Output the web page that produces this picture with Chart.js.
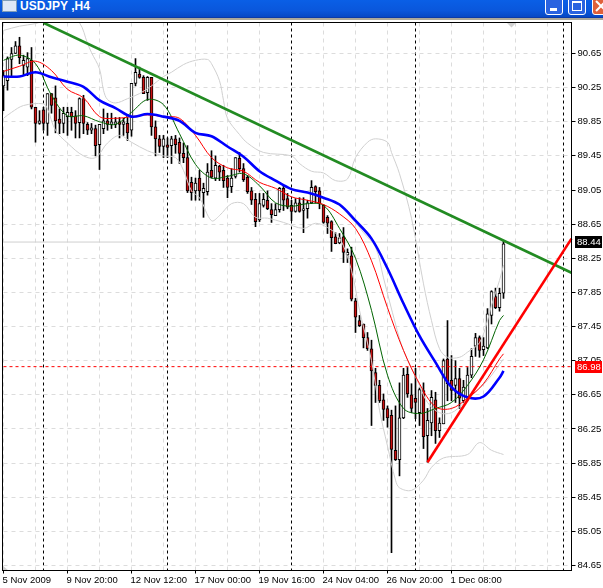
<!DOCTYPE html>
<html>
<head>
<meta charset="utf-8">
<title>USDJPY,H4</title>
<script src="https://cdn.jsdelivr.net/npm/chart.js@4"></script>
<style>
    html, body { margin: 0; padding: 0; background: #fff; }
    #janela { position: relative; width: 603px; height: 588px; overflow: hidden; background: #fff; }
    #grafico { position: absolute; left: 0; top: 0; }
    #barra { position: absolute; left: 0; top: 0; width: 603px; height: 17px;
             background: linear-gradient(#0a5fe6, #0a57dc 60%, #0648c4); border-bottom: 1px solid #0a3aa8; }
    #faixa { position: absolute; left: 0; top: 18px; width: 603px; height: 2px; background: #aca899; }
    #icone { position: absolute; left: 2px; top: 0; width: 13px; height: 10px; background: #dfe8f6; border: 1px solid #7f9db9; }
    #titulo { position: absolute; left: 20px; top: -1px; color: #fff; font: bold 12px "Liberation Sans", sans-serif; }
    .botao { position: absolute; top: -4px; width: 16px; height: 17px; border: 1px solid #fff; border-radius: 3px;
             background: #2a63e0; overflow: hidden; }
    #fechar { background: #e0603a; }
    #menos { position: absolute; left: 4px; top: 11px; width: 7px; height: 3px; background: #fff; }
    #caixa { position: absolute; left: 3px; top: 4px; width: 8px; height: 7px; border: 1px solid #fff; border-top-width: 2px; }
    .xis { position: absolute; left: 1px; top: 8px; width: 14px; height: 2px; background: #fff; }
</style>
</head>
<body>
<div id="janela">
    <canvas id="grafico" width="603" height="588"></canvas>
    <div id="barra"></div>
    <div id="faixa"></div>
    <div id="icone"></div>
    <div id="titulo">USDJPY ,H4</div>
    <div class="botao" style="left:545px"><div id="menos"></div></div>
    <div class="botao" style="left:568px"><div id="caixa"></div></div>
    <div class="botao" id="fechar" style="left:592px">
        <div class="xis" style="transform:rotate(45deg)"></div>
        <div class="xis" style="transform:rotate(-45deg)"></div>
    </div>
</div>
<script>
const totalBarras = 143;

const opens = [90.27,90.33,90.58,90.65,90.74,90.51,90.49,90.57,90.02,89.83,89.99,89.83,90.18,90.13,89.88,89.83,89.91,89.96,89.92,89.84,
    90.12,89.82,89.75,89.77,89.58,89.77,89.86,89.82,89.82,89.85,89.82,89.83,89.75,90.30,90.41,90.37,90.19,90.37,89.79,89.65,
    89.56,89.58,89.57,89.65,89.61,89.48,89.43,89.14,89.04,89.19,89.02,89.03,89.28,89.19,89.33,89.28,89.19,89.09,89.21,89.42,
    89.30,89.20,89.04,88.94,88.70,88.87,88.93,88.82,88.75,88.82,89.07,88.95,88.87,88.80,88.90,88.81,88.83,88.90,89.09,89.04,
    88.87,88.73,88.68,88.50,88.43,88.50,88.29,88.28,87.75,87.52,87.48,87.32,87.19,86.91,86.76,86.59,86.49,86.41,86.00,85.89,
    86.38,86.89,86.65,86.61,86.44,86.70,86.17,86.32,86.59,86.23,86.31,87.07,86.82,86.76,86.84,86.58,86.61,86.88,87.22,87.32,
    87.18,87.20,87.58,87.80,87.67,87.84];
const highs = [90.45,90.61,90.72,90.79,90.84,90.63,90.66,90.72,90.02,89.98,90.02,90.18,90.18,90.27,90.00,90.02,90.02,90.02,89.98,90.13,
    90.16,89.84,89.83,89.81,89.82,90.00,89.95,89.95,89.90,89.90,89.89,89.90,90.30,90.59,90.49,90.39,90.38,90.37,89.86,89.69,
    89.69,89.66,89.68,89.69,89.66,89.60,89.57,89.20,89.19,89.28,89.13,89.36,89.51,89.45,89.34,89.34,89.22,89.30,89.43,89.49,
    89.36,89.22,89.08,89.01,89.01,89.01,89.04,88.89,88.89,89.08,89.10,89.01,88.93,88.95,88.96,88.96,88.93,89.16,89.10,89.08,
    88.88,88.75,88.69,88.55,88.54,88.61,88.36,88.38,87.78,87.58,87.48,87.38,87.29,86.96,86.82,86.66,86.52,86.47,86.52,86.79,
    86.96,86.97,86.78,86.96,86.73,86.79,86.49,86.70,86.68,86.38,87.07,87.52,87.11,87.05,86.96,86.82,86.97,87.19,87.37,87.34,
    87.32,87.66,87.87,87.90,87.90,88.45];
const lows = [89.98,90.22,90.39,90.65,90.53,90.39,90.39,90.00,89.61,89.82,89.75,89.69,89.95,89.72,89.71,89.72,89.69,89.75,89.66,89.66,
    89.71,89.70,89.71,89.45,89.29,89.71,89.75,89.77,89.78,89.66,89.69,89.63,89.68,90.27,90.36,90.18,90.10,89.69,89.45,89.49,
    89.43,89.43,89.36,89.48,89.36,89.37,89.02,88.93,88.93,88.93,88.73,88.99,89.19,89.16,89.16,89.08,88.96,89.02,89.19,89.26,
    89.15,89.01,88.88,88.62,88.68,88.85,88.82,88.67,88.75,88.79,88.81,88.83,88.69,88.79,88.79,88.55,88.72,88.89,88.90,88.83,
    88.66,88.54,88.33,88.42,88.42,88.20,88.20,87.75,87.38,87.45,87.20,87.17,86.29,86.56,86.56,86.35,86.27,84.80,85.88,85.70,
    86.37,86.62,86.44,86.37,86.29,86.02,85.86,86.17,86.08,86.15,86.31,86.58,86.58,86.56,86.49,86.56,86.58,86.85,87.10,87.09,
    87.11,87.19,87.48,87.66,87.63,87.78];
const closes = [90.39,90.59,90.65,90.74,90.60,90.57,90.59,90.02,89.83,89.86,89.83,90.18,90.04,89.86,89.83,89.95,89.96,89.91,89.83,90.12,
    89.83,89.75,89.78,89.57,89.82,89.86,89.82,89.85,89.85,89.82,89.85,89.72,90.30,90.43,90.37,90.18,90.37,89.79,89.65,89.56,
    89.65,89.55,89.65,89.58,89.48,89.43,89.04,89.02,89.13,89.04,89.07,89.26,89.20,89.34,89.26,89.16,89.08,89.19,89.43,89.30,
    89.17,89.03,88.93,88.68,88.89,88.94,88.83,88.76,88.82,89.07,88.93,88.85,88.80,88.90,88.80,88.83,88.90,89.08,89.03,88.89,
    88.67,88.66,88.49,88.42,88.49,88.32,88.32,87.77,87.56,87.46,87.32,87.19,86.93,86.76,86.58,86.48,86.38,86.01,85.89,86.38,
    86.88,86.66,86.49,86.56,86.71,86.16,86.35,86.62,86.23,86.32,87.05,86.78,86.70,86.84,86.61,86.74,86.88,87.10,87.32,87.17,
    87.22,87.60,87.86,87.67,87.84,88.42];

const maBarras = [0,4,8,12,16,20,24,28,32,36,40,44,48,52,56,60,64,68,72,76,80,84,88,92,96,100,104,108,112,116,120,124,125];
const maAzul = [90.38,90.38,90.43,90.37,90.32,90.26,90.10,90.01,89.91,89.94,89.91,89.86,89.72,89.68,89.56,89.44,89.27,89.16,89.06,89.02,
    88.96,88.88,88.69,88.48,88.13,87.72,87.34,87.03,86.74,86.62,86.63,86.85,86.93];
const maVermelha = [90.44,90.50,90.56,90.45,90.23,90.13,89.91,89.89,89.91,89.93,89.91,89.89,89.69,89.43,89.31,89.27,89.14,89.07,88.97,88.93,
    88.88,88.77,88.60,88.22,87.67,87.17,86.78,86.51,86.49,86.61,86.78,87.07,87.13];
const maVerde = [90.57,90.63,90.53,90.16,89.92,89.92,89.85,89.82,89.96,90.11,90.05,89.71,89.35,89.19,89.21,89.24,89.10,88.90,88.86,88.89,
    88.87,88.60,88.25,87.64,86.88,86.49,86.43,86.49,86.56,86.76,87.06,87.52,87.58];

const bbSupBarras = [0,4,8,12,16,19,21,22,24,25,26,28,31,34,37,40,42,45,48,51,52,54,55,56,59,61,65,72,74,77,80,83,86,88,91,93,96,97,99,102,105,107,109,111,114,116,119,121,122,124,125];
const bbSup = [90.92,90.97,91.00,91.06,91.10,91.01,90.77,90.66,90.47,90.22,90.11,90.07,90.12,90.18,90.27,90.38,90.43,90.52,90.57,90.58,90.53,90.33,90.10,89.89,89.70,89.60,89.49,89.45,89.36,89.27,89.25,89.16,89.18,89.43,89.61,89.65,89.61,89.49,89.24,88.72,87.95,87.52,87.19,87.09,87.09,87.15,87.26,87.52,87.70,87.99,88.17];
const bbInfBarras = [0,2,5,10,11,13,16,20,23,26,29,32,36,40,43,45,47,49,52,54,57,60,63,66,70,75,78,81,84,87,89,92,94,96,98,99,102,105,107,110,116,119,122,125];
const bbInf = [89.89,89.96,90.04,90.06,90.00,89.75,89.60,89.45,89.43,89.60,89.69,89.61,89.51,89.45,89.43,89.28,89.04,88.96,88.69,88.75,88.89,88.89,88.73,88.72,88.67,88.60,88.66,88.61,88.49,88.11,87.64,87.05,86.47,86.05,85.65,85.56,85.53,85.65,85.80,85.91,85.95,86.09,86.00,85.95];
const bbMeioBarras = [84,88,90,93,95,98,100,104,106,109,112,115,118,121,125];
const bbMeio = [88.87,88.67,88.55,88.38,88.02,87.48,87.17,86.76,86.56,86.44,86.44,86.55,86.68,86.82,87.07];

const tendenciaVerdeBarras = [10,142];
const tendenciaVerde = [91.01,88.08];
const tendenciaVermelhaBarras = [106,142];
const tendenciaVermelha = [85.86,88.48];

const precoAtual = 88.44;
const precoLinha = 86.98;

const yTicks = [90.65,90.25,89.85,89.45,89.05,88.65,88.25,87.85,87.45,87.05,86.65,86.25,85.85,85.45,85.05,84.65];
const xTickLabels = ["5 Nov 2009","9 Nov 20:00","12 Nov 12:00","17 Nov 00:00","19 Nov 16:00","24 Nov 04:00","26 Nov 20:00","1 Dec 08:00"];
const separadores = [10,41,72,103,140];

const barras = [...Array(totalBarras).keys()];

// coloca os valores nas barras certas, o resto fica vazio
function esparso(indices, valores) {
    const saida = Array(totalBarras).fill(null);
    indices.forEach((b, k) => { saida[b] = valores[k]; });
    return saida;
}

function linha(indices, valores, cor, largura, ordem, extra) {
    return Object.assign({
        type: "line",
        data: esparso(indices, valores),
        borderColor: cor,
        borderWidth: largura,
        pointRadius: 0,
        spanGaps: true,
        tension: 0,
        order: ordem
    }, extra || {});
}

const fonte = { family: "'Liberation Sans', sans-serif", size: 9.5 };
const curva = { tension: 0.35 };

const moldura = {
    id: "moldura",
    afterDraw(c) {
        const ctx = c.ctx;
        const a = c.chartArea;
        const y = c.scales.y;
        ctx.save();
        // triangulos cinza da janela
        ctx.fillStyle = "#d0d0d0";
        ctx.beginPath();
        ctx.moveTo(a.right - 65, a.top);
        ctx.lineTo(a.right - 55, a.top);
        ctx.lineTo(a.right - 60, a.top + 5);
        ctx.fill();
        ctx.beginPath();
        ctx.moveTo(a.left - 1, a.bottom - 5);
        ctx.lineTo(a.left + 5, a.bottom);
        ctx.lineTo(a.left - 1, a.bottom);
        ctx.fill();
        ctx.strokeStyle = "#000";
        ctx.lineWidth = 1;
        ctx.strokeRect(2.5, a.top, a.right - 2.5, a.bottom - a.top);
        // etiquetas de preco na direita
        ctx.font = fonte.size + "px " + fonte.family;
        ctx.textAlign = "left";
        ctx.textBaseline = "middle";
        [[precoAtual, "#000"], [precoLinha, "#ff0000"]].forEach(([p, cor]) => {
            const py = Math.round(y.getPixelForValue(p));
            ctx.fillStyle = cor;
            ctx.fillRect(575, py - 6, 27, 12);
            ctx.fillStyle = "#fff";
            ctx.fillText(p.toFixed(2), 577, py);
        });
        ctx.restore();
    }
};

new Chart(document.getElementById("grafico"), {
    data: {
        labels: barras,
        datasets: [
            linha(tendenciaVermelhaBarras, tendenciaVermelha, "#ff0000", 2.6, 1),
            linha(tendenciaVerdeBarras, tendenciaVerde, "#228b22", 2.6, 2),
            linha(maBarras, maAzul, "#0000ff", 2.6, 3, curva),
            linha(maBarras, maVermelha, "#ff0000", 1, 4, curva),
            linha(maBarras, maVerde, "#006400", 1, 5, curva),
            linha(bbSupBarras, bbSup, "#d0d0d0", 1, 6, curva),
            linha(bbInfBarras, bbInf, "#d0d0d0", 1, 6, curva),
            linha(bbMeioBarras, bbMeio, "#d0d0d0", 1, 6, curva),
            linha([0,142], [precoLinha,precoLinha], "#ff0000", 1, 7, { borderDash: [3,3] }),
            linha([0,142], [precoAtual,precoAtual], "#cfcfcf", 1, 12),
            {
                type: "bar",
                data: opens.map((o, i) => [o, closes[i]]),
                backgroundColor: opens.map((o, i) => closes[i] < o ? "#cc1111" : "#ffffff"),
                borderColor: "#000",
                borderWidth: 1,
                borderSkipped: false,
                barThickness: 3,
                grouped: false,
                clip: false,
                order: 8
            },
            {
                type: "bar",
                data: lows.map((l, i) => [l, highs[i]]),
                backgroundColor: "#000",
                barThickness: 1,
                grouped: false,
                clip: false,
                order: 9
            }
        ]
    },
    options: {
        responsive: false,
        animation: false,
        devicePixelRatio: 1,
        layout: { padding: { left: 3.5, top: 22.5, right: 0, bottom: 0 } },
        plugins: { legend: { display: false }, tooltip: { enabled: false } },
        scales: {
            x: {
                type: "category",
                offset: false,
                afterFit(s) { s.height = 17.5; },
                border: {
                    display: false,
                    dash: c => separadores.includes(c.index) ? [3,3] : [4,4]
                },
                grid: {
                    offset: false,
                    color: c => separadores.includes(c.index) ? "#000"
                        : (c.index % 8 === 0 ? "#dcdcdc" : "transparent"),
                    tickColor: c => (c.index % 16 === 0 && c.index / 16 < xTickLabels.length) ? "#000" : "transparent",
                    tickLength: 3
                },
                ticks: {
                    autoSkip: false,
                    maxRotation: 0,
                    minRotation: 0,
                    align: "start",
                    labelOffset: -1,
                    padding: 1,
                    color: "#000",
                    font: fonte,
                    callback: (v, i) => i % 16 === 0 ? (xTickLabels[i / 16] || "") : ""
                }
            },
            y: {
                position: "right",
                min: 84.591,
                max: 91.013,
                afterFit(s) { s.width = 31.5; },
                afterBuildTicks(s) { s.ticks = yTicks.map(v => ({ value: v })); },
                border: { display: false, dash: [4,4] },
                grid: { color: "#dcdcdc", tickColor: "#000", tickLength: 4 },
                ticks: {
                    padding: 2,
                    color: "#000",
                    font: fonte,
                    callback: v => Number(v).toFixed(2)
                }
            }
        }
    },
    plugins: [moldura]
});
</script>
</body>
</html>
